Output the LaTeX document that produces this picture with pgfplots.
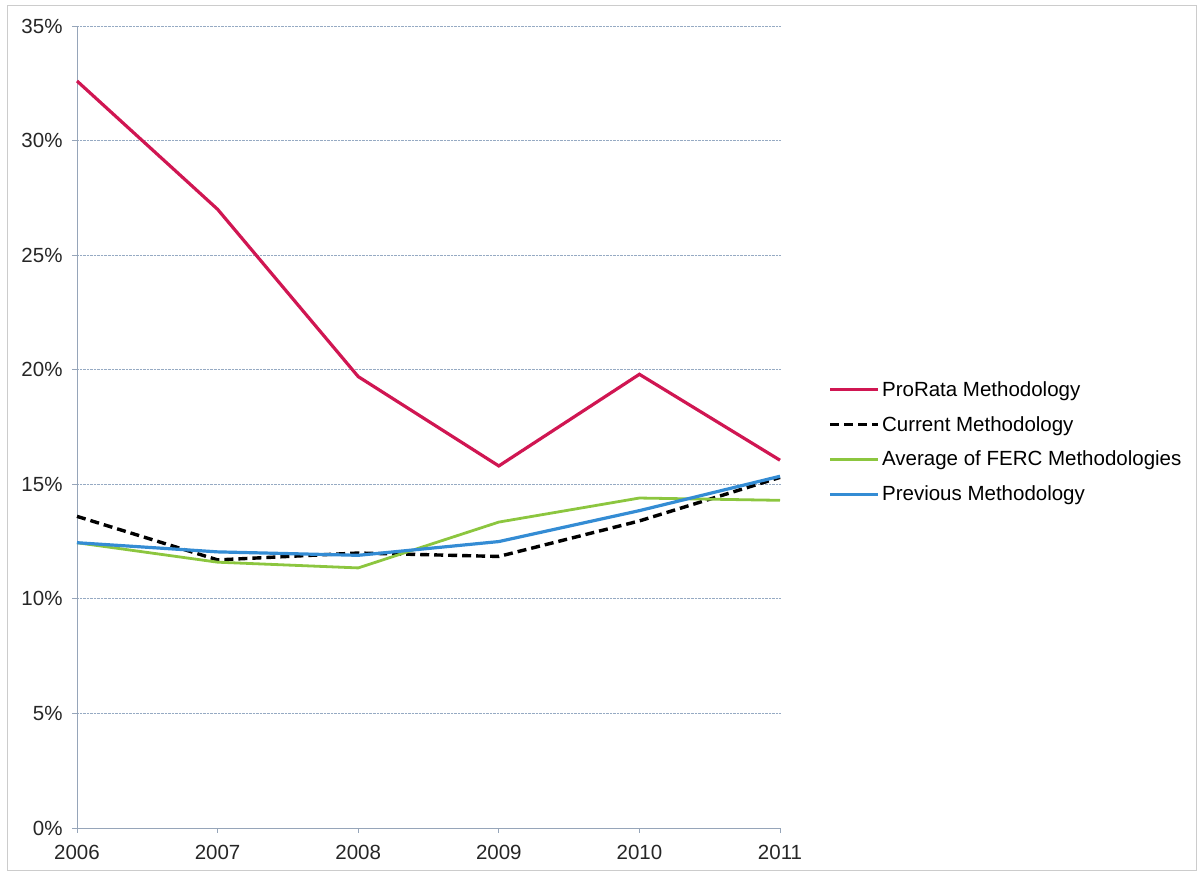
\documentclass[border=0pt]{standalone}
\usepackage{pgfplots}
\pgfplotsset{compat=1.18}
\usepackage{fontspec}
\setmainfont{Liberation Sans}
\definecolor{prorata}{RGB}{208,22,82}
\definecolor{ferc}{RGB}{140,198,63}
\definecolor{prev}{RGB}{52,140,212}
\definecolor{gridc}{RGB}{150,170,195}
\definecolor{axc}{RGB}{150,165,185}
\begin{document}
\begin{tikzpicture}
\path[use as bounding box] (0bp,0bp) rectangle (1199bp,873bp);
\draw[draw=gray!40, line width=0.8bp] (7bp,3bp) rectangle (1196bp,868bp);
\begin{axis}[
  at={(77bp,45bp)}, anchor=south west,
  scale only axis, width=703bp, height=802bp,
  xmin=2006, xmax=2011, ymin=0, ymax=35,
  xtick={2006,2007,2008,2009,2010,2011},
  xticklabels={2006,2007,2008,2009,2010,2011},
  ytick={0,5,10,15,20,25,30,35},
  yticklabel={\pgfmathprintnumber{\tick}\%},
  /pgf/number format/assume math mode=true,
  tick label style={font=\fontsize{20.5bp}{24bp}\selectfont, text=black!85},
  axis x line*=bottom, axis y line*=left,
  axis line style={draw=axc, line width=0.9bp, -},
  tick style={draw=axc, line width=0.9bp},
  major tick length=5bp,
  tick align=outside,
  ymajorgrids, grid style={draw=gridc, densely dotted, line width=0.8bp},
  xticklabel style={yshift=-9bp},
  yticklabel style={xshift=-6bp},
  legend style={at={(1.069,0.562)}, anchor=north west, draw=none, fill=none,
    font=\fontsize{20.5bp}{23bp}\selectfont, row sep=14.5bp, cells={anchor=west},
    inner xsep=0pt},
  legend image code/.code={\draw[#1] (0bp,0bp) -- (48bp,0bp);},
  clip=false,
]
\addplot[prorata, line width=3.2bp] coordinates {(2006,32.6) (2007,27.0) (2008,19.7) (2009,15.8) (2010,19.8) (2011,16.05)};
\addlegendentry{ProRata Methodology}
\addplot[black, line width=3.4bp, dash pattern=on 9bp off 5bp] coordinates {(2006,13.6) (2007,11.7) (2008,12.0) (2009,11.85) (2010,13.4) (2011,15.3)};
\addlegendentry{Current Methodology}
\addplot[ferc, line width=2.8bp] coordinates {(2006,12.45) (2007,11.6) (2008,11.35) (2009,13.35) (2010,14.4) (2011,14.3)};
\addlegendentry{Average of FERC Methodologies}
\addplot[prev, line width=3.2bp] coordinates {(2006,12.45) (2007,12.05) (2008,11.9) (2009,12.5) (2010,13.85) (2011,15.35)};
\addlegendentry{Previous Methodology}
\end{axis}
\end{tikzpicture}
\end{document}
